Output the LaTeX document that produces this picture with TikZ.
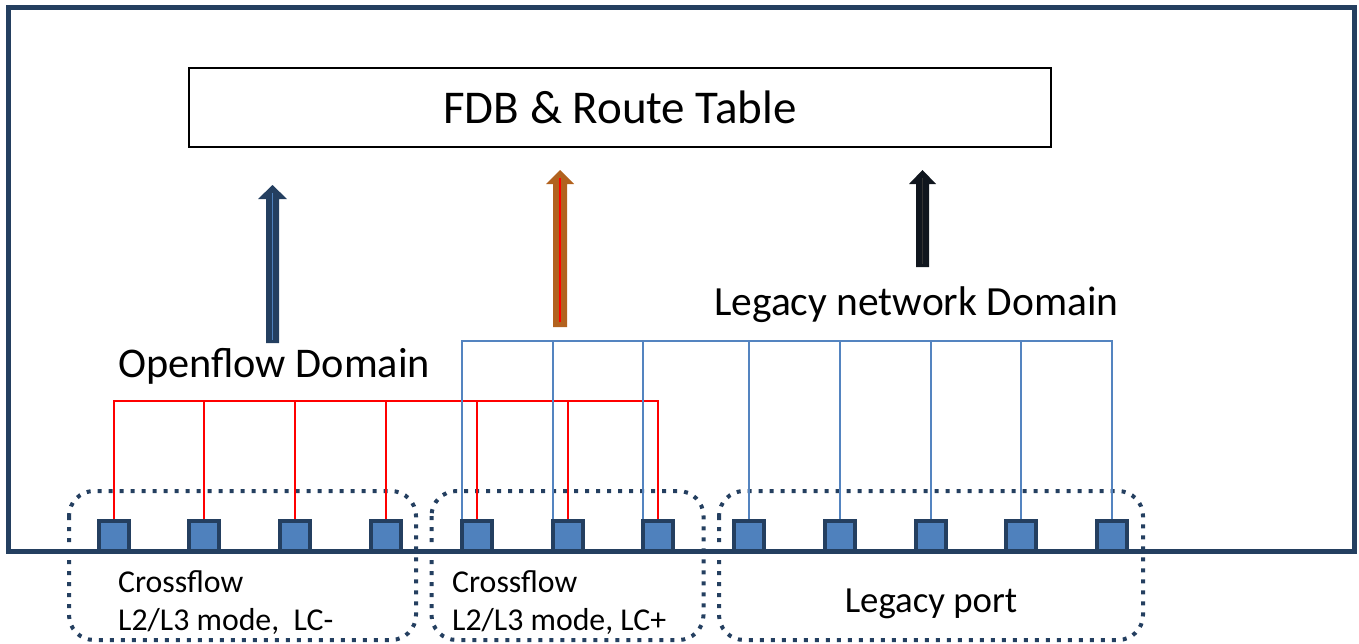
\documentclass[tikz,border=0pt]{standalone}
\usepackage{fontspec}
\setmainfont{Carlito}
\definecolor{navy}{RGB}{36,63,96}
\definecolor{portfill}{RGB}{79,129,189}
\definecolor{wireblue}{RGB}{84,132,192}
\definecolor{brownarrow}{RGB}{178,98,30}
\definecolor{blackarrow}{RGB}{16,22,30}
\begin{document}
\begin{tikzpicture}[x=1pt,y=-1pt,
  port/.style={draw=navy,fill=portfill,line width=4pt,minimum size=30pt,inner sep=0pt,outer sep=0pt},
  group/.style={draw=navy,line width=4pt,dash pattern=on 4pt off 7pt,rounded corners=25pt},
  redwire/.style={draw=red,line width=2pt},
  bluewire/.style={draw=wireblue,line width=2pt},
  biglabel/.style={font=\fontsize{42}{50}\selectfont,inner sep=0pt},
  smalllabel/.style={font=\fontsize{31.8}{38}\selectfont,inner sep=0pt,align=left}
]
\useasboundingbox (0,0) rectangle (1359,643);
% outer frame
\draw[navy,line width=5pt] (8,7.5) rectangle (1354,551);
% FDB box
\node[draw=black,line width=2pt,minimum width=862pt,minimum height=79.5pt,inner sep=0pt,font=\fontsize{47}{54}\selectfont] (fdb) at (620,107.5) {FDB \& Route Table};
% group boxes
\draw[group] (69,491) rectangle (416,640);
\draw[group] (431.5,491) rectangle (703.5,640);
\draw[group] (719,491) rectangle (1143,640);
% arrows
\fill[navy] (266,343) -- (266,199) -- (258,199) -- (272.5,185) -- (287,199) -- (279,199) -- (279,343) -- cycle;
\draw[portfill,line width=1.5pt] (272.5,340) -- (272.5,193);
\fill[brownarrow] (553,327) -- (553,184) -- (546,184) -- (560,170) -- (574,184) -- (567,184) -- (567,327) -- cycle;
\draw[red,line width=2.5pt] (560,322) -- (560,178);
\fill[blackarrow] (916,267) -- (916,184) -- (909,184) -- (922.5,170) -- (936,184) -- (929,184) -- (929,267) -- cycle;
\draw[black!80,line width=1.5pt] (922.5,264) -- (922.5,178);
% labels
\node[biglabel,font=\fontsize{42.3}{50}\selectfont,anchor=base west] (ofd) at (118,377) {Openflow Domain};
\node[biglabel,font=\fontsize{41.5}{50}\selectfont,anchor=base west] (lnd) at (714,315) {Legacy network Domain};
% ports
\foreach \i/\x in {1/114,2/204,3/295,4/386,5/477,6/568,7/658,8/749,9/840,10/931,11/1021,12/1112} {
  \coordinate (pc\i) at (\x,536);
  \node[port] (p\i) at (pc\i) {};
}
% buses
\coordinate (rb) at (0,401);
\coordinate (bb) at (0,341);
\draw[redwire] (p1.north) -- (p1.north |- rb) -| (p7.north);
\foreach \i in {2,...,6} { \draw[redwire] (p\i.north |- rb) -- (p\i.north); }
\draw[bluewire] ([xshift=-15pt]p5.north) -- ([xshift=-15pt]p5.north |- bb) -| (p12.north);
\foreach \i in {6,7} { \draw[bluewire] ([xshift=-15pt]p\i.north |- bb) -- ([xshift=-15pt]p\i.north); }
\foreach \i in {8,...,11} { \draw[bluewire] (p\i.north |- bb) -- (p\i.north); }
% redraw ports on top
\foreach \i in {1,...,12} {
  \node[port] at (pc\i) {};
}
% bottom labels
\node[smalllabel,anchor=base west] (g1) at (118,630) {Crossflow\\L2/L3 mode,\ \ LC-};
\node[smalllabel,anchor=base west] (g2) at (452,630) {Crossflow\\L2/L3 mode, LC+};
\node[smalllabel,font=\fontsize{36.8}{44}\selectfont,anchor=base] (g3) at (931,612) {Legacy port};
\end{tikzpicture}
\end{document}
